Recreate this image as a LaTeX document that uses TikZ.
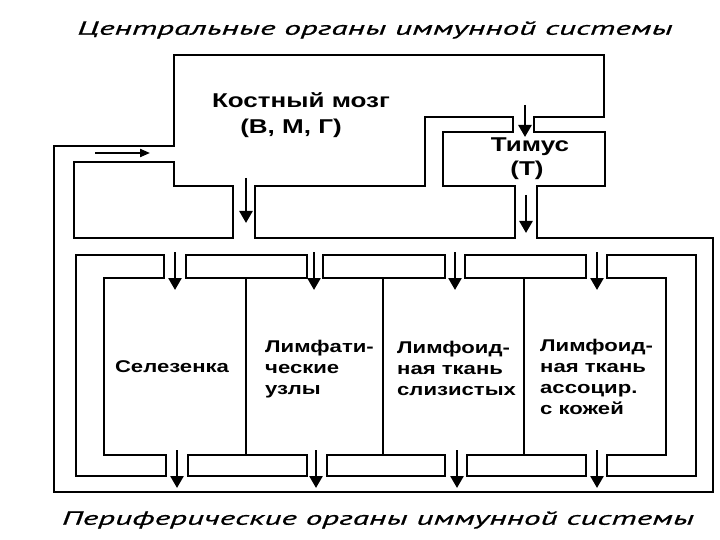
\documentclass[tikz,border=0pt]{standalone}
\usepackage{fontspec}
\setmainfont{Liberation Sans}[FakeStretch=1.3]
\newfontfamily\captionfont{PT Sans}[FakeStretch=1.75, FakeBold=0.8]
\usetikzlibrary{arrows.meta}

\tikzset{
  wall/.style={black, line width=2.6pt},
  flow/.style={black, line width=2.6pt, -{Triangle[length=12pt,width=13pt]}},
  inflow/.style={black, line width=2pt, -{Triangle[length=10pt,width=8pt]}},
  organ/.style={font=\bfseries\fontsize{17}{21}\selectfont, align=left},
  central/.style={font=\bfseries\fontsize{20}{24}\selectfont},
  caption/.style={font=\captionfont\itshape\fontsize{19}{22}\selectfont}
}

\begin{document}
\begin{tikzpicture}[x=1pt,y=-1pt]
\tikzstyle{every node}+=[inner sep=0pt]
\useasboundingbox (0,0) rectangle (720,540);
% captions
\node [caption] (central) at (375,30) {Центральные органы иммунной системы};
\node [caption] (periph) at (378,520) {Периферические органы иммунной системы};
% outer channel
\draw [wall] (54,492) -- (54,146) -- (174,146) -- (174,55) -- (604,55) -- (604,117) -- (534,117) -- (534,132) -- (605,132) -- (605,186) -- (537,186) -- (537,238) -- (713,238) -- (713,492) -- cycle;
\draw [wall] (74,162) -- (174,162) -- (174,186) -- (233,186) -- (233,238) -- (74,238) -- cycle;
\draw [wall] (255,186) -- (425,186) -- (425,117) -- (513,117) -- (513,132) -- (443,132) -- (443,186) -- (515,186) -- (515,238) -- (255,238) -- cycle;
% peripheral block
\draw [wall] (76,255) -- (164,255) -- (164,278) -- (104,278) -- (104,455) -- (166,455) -- (166,476) -- (76,476) -- cycle;
\draw [wall] (607,255) -- (696,255) -- (696,476) -- (607,476) -- (607,455) -- (666,455) -- (666,278) -- (607,278) -- cycle;
\draw [wall] (186,255) rectangle (307,278);
\draw [wall] (323,255) rectangle (445,278);
\draw [wall] (465,255) rectangle (586,278);
\draw [wall] (188,455) rectangle (307,476);
\draw [wall] (327,455) rectangle (445,476);
\draw [wall] (467,455) rectangle (586,476);
\draw [wall] (246,278) -- (246,455);
\draw [wall] (383,278) -- (383,455);
\draw [wall] (524,278) -- (524,455);
% arrows
\draw [inflow] (95,153) -- (150,153);
\draw [flow] (246,178) -- (246,223);
\draw [flow] (525,105) -- (525,137);
\draw [flow] (526,195) -- (526,233);
\draw [flow] (175,252) -- (175,290);
\draw [flow] (314,252) -- (314,290);
\draw [flow] (455,252) -- (455,290);
\draw [flow] (597,252) -- (597,290);
\draw [flow] (177,450) -- (177,488);
\draw [flow] (316,450) -- (316,488);
\draw [flow] (457,450) -- (457,488);
\draw [flow] (597,450) -- (597,488);
% organs
\node [central] (marrow) at (301,100) {Костный мозг};
\node [central] (marrowcells) at (291,128) {(В, М, Г)};
\node [central] (thymus) at (530,147) {Тимус};
\node [central] (thymuscells) at (527,170) {(Т)};
\node [organ] (spleen) at (172,367) {Селезенка};
\node [organ, anchor=west] (nodes) at (265,369) {Лимфати-\\ческие\\узлы};
\node [organ, anchor=west] (mucosa) at (397,368) {Лимфоид-\\ная ткань\\слизистых};
\node [organ, anchor=west] (skin) at (540,377) {Лимфоид-\\ная ткань\\ассоцир.\\с кожей};
\end{tikzpicture}
\end{document}
